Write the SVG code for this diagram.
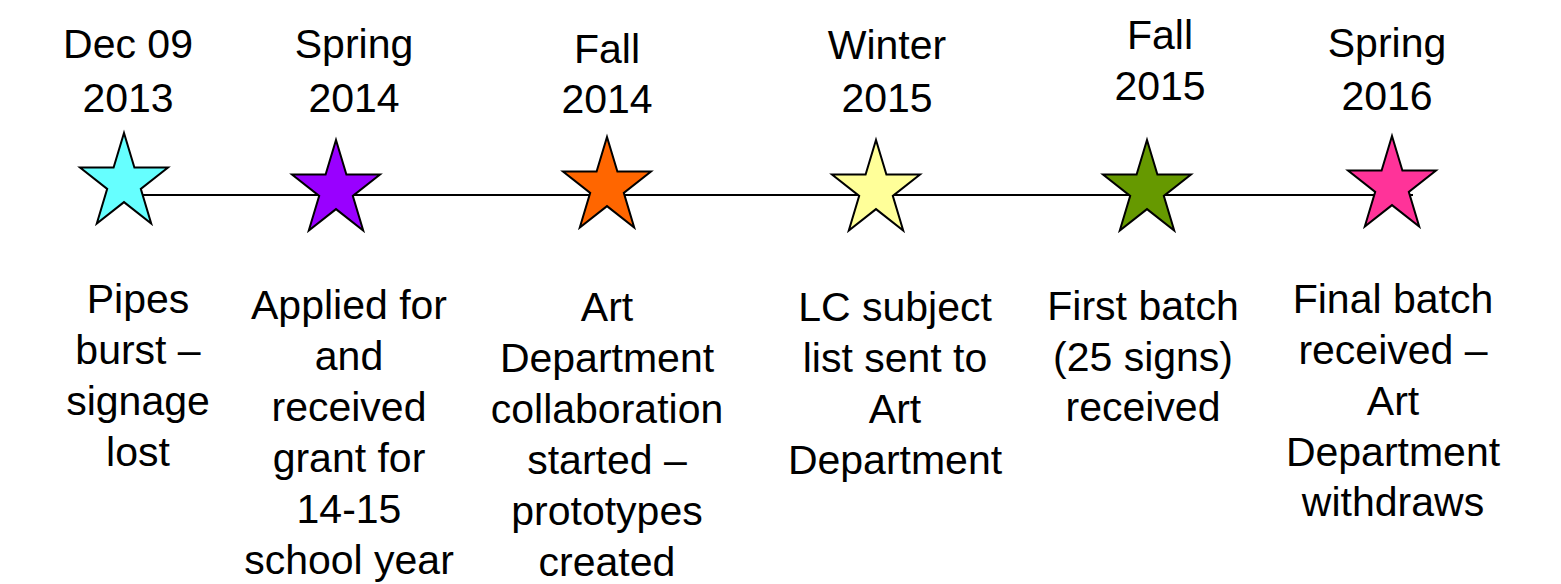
<svg xmlns="http://www.w3.org/2000/svg" xmlns:xlink="http://www.w3.org/1999/xlink" width="1561" height="584" viewBox="0 0 1561 584">
<style>
  text { font-family: "Liberation Sans", Arial, sans-serif; font-size: 41px; fill: #000; text-anchor: middle; }
  .star { stroke: #000; stroke-width: 2; stroke-linejoin: miter; }
  .axis { stroke: #000; stroke-width: 2; fill: none; }
</style>
<defs>
  <polygon id="star" points="0,-50 10.4,-15.45 44,-15.45 16.8,5.9 27.2,40.45 0,19.1 -27.2,40.45 -16.8,5.9 -44,-15.45 -10.4,-15.45"/>
</defs>
<rect width="1561" height="584" fill="#fff"/>
<g id="connectors">
  <line class="axis" x1="124" y1="195" x2="1413" y2="195"/>
</g>
<g id="event1">
  <text x="128" y="58">Dec 09</text>
  <text x="128" y="112">2013</text>
  <use xlink:href="#star" href="#star" class="star" fill="#66FFFF" transform="translate(124,183)"/>
  <text x="138" y="313">Pipes</text>
  <text x="138" y="364">burst –</text>
  <text x="138" y="415">signage</text>
  <text x="138" y="466">lost</text>
</g>
<g id="event2">
  <text x="354" y="58">Spring</text>
  <text x="354" y="112">2014</text>
  <use xlink:href="#star" href="#star" class="star" fill="#9900FF" transform="translate(336,190)"/>
  <text x="349" y="319">Applied for</text>
  <text x="349" y="370">and</text>
  <text x="349" y="421">received</text>
  <text x="349" y="472">grant for</text>
  <text x="349" y="523">14-15</text>
  <text x="349" y="574">school year</text>
</g>
<g id="event3">
  <text x="607" y="63">Fall</text>
  <text x="607" y="113">2014</text>
  <use xlink:href="#star" href="#star" class="star" fill="#FF6600" transform="translate(607,187)"/>
  <text x="607" y="321">Art</text>
  <text x="607" y="372">Department</text>
  <text x="607" y="423">collaboration</text>
  <text x="607" y="474">started –</text>
  <text x="607" y="525">prototypes</text>
  <text x="607" y="576">created</text>
</g>
<g id="event4">
  <text x="887" y="59">Winter</text>
  <text x="887" y="112">2015</text>
  <use xlink:href="#star" href="#star" class="star" fill="#FFFF99" transform="translate(876,190)"/>
  <text x="895" y="321">LC subject</text>
  <text x="895" y="372">list sent to</text>
  <text x="895" y="423">Art</text>
  <text x="895" y="474">Department</text>
</g>
<g id="event5">
  <text x="1160" y="49">Fall</text>
  <text x="1160" y="100">2015</text>
  <use xlink:href="#star" href="#star" class="star" fill="#669900" transform="translate(1147,190)"/>
  <text x="1143" y="320">First batch</text>
  <text x="1143" y="371">(25 signs)</text>
  <text x="1143" y="421">received</text>
</g>
<g id="event6">
  <text x="1387" y="57">Spring</text>
  <text x="1387" y="110">2016</text>
  <use xlink:href="#star" href="#star" class="star" fill="#FF3399" transform="translate(1392,186)"/>
  <text x="1393" y="313">Final batch</text>
  <text x="1393" y="364">received –</text>
  <text x="1393" y="415">Art</text>
  <text x="1393" y="466">Department</text>
  <text x="1393" y="516">withdraws</text>
</g>
</svg>
